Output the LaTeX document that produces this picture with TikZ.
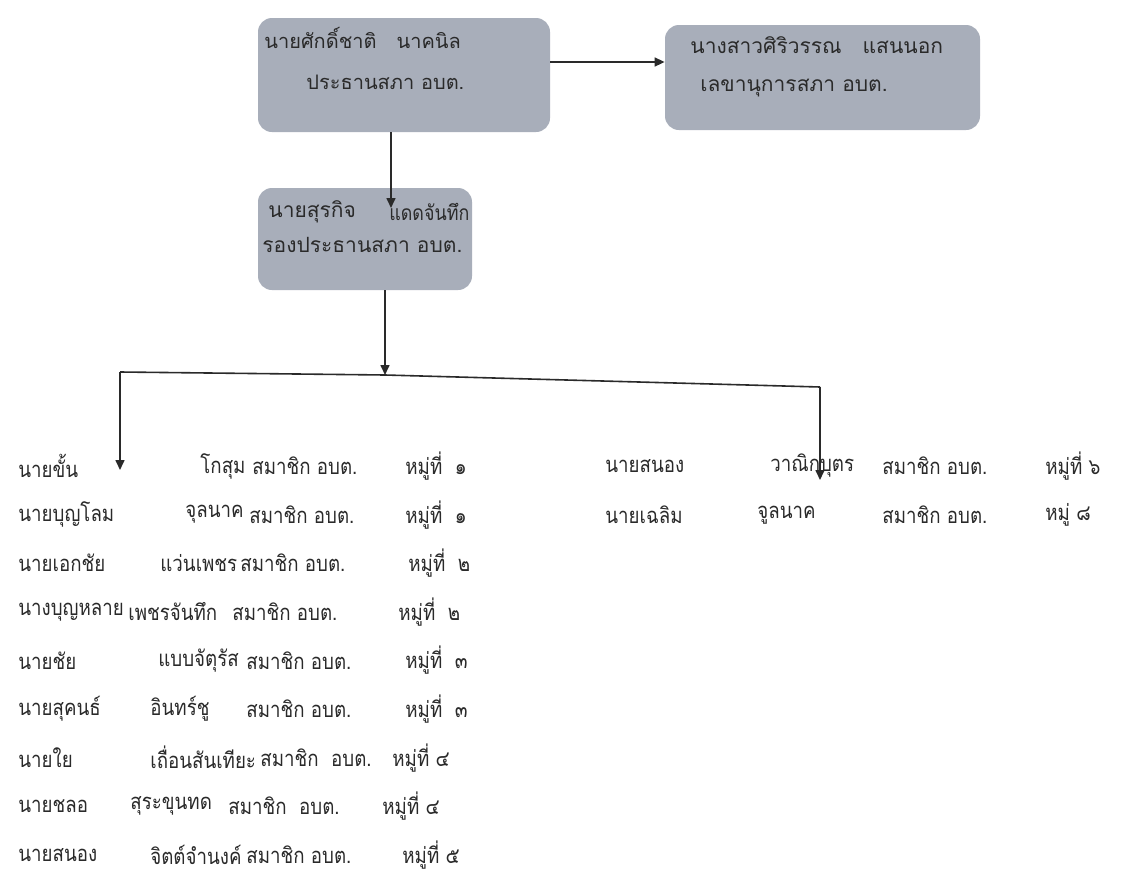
\documentclass[tikz,border=0pt]{standalone}
\usepackage{fontspec}
\setmainfont[Script=Thai]{Loma}
\newfontfamily\membfont[Script=Thai,FakeStretch=0.85]{Loma}
\usetikzlibrary{arrows.meta}
\definecolor{boxgray}{HTML}{A8AEBA}
\definecolor{ink}{HTML}{2A2A2A}
\tikzset{
  orgbox/.style={fill=boxgray, draw=none, rounded corners=7pt, inner sep=0pt},
  lbl/.style={anchor=west, inner sep=0pt, text=ink, font=\fontsize{10.5}{12}\selectfont},
  mlbl/.style={anchor=west, inner sep=0pt, text=ink, font=\membfont\fontsize{11}{13}\selectfont},
  conn/.style={draw=ink, line width=0.8pt},
  arr/.style={conn, -{Triangle[length=5pt,width=4.5pt]}}
}
\begin{document}
\begin{tikzpicture}[x=0.5pt, y=-0.5pt]
\useasboundingbox[fill=white] (0,0) rectangle (1132,873);
% boxes
\node[orgbox, minimum width=146pt, minimum height=57pt] (p1) at (404,75) {};
\node[orgbox, minimum width=157.5pt, minimum height=52.5pt] (p2) at (822.5,77.5) {};
\node[orgbox, minimum width=107pt, minimum height=51pt] (p3) at (365,239) {};
% box texts
\node[lbl, font=\fontsize{10}{12}\selectfont] (p1a) at (264,38) {นายศักดิ์ชาติ\quad นาคนิล};
\node[lbl, font=\fontsize{10}{12}\selectfont] (p1b) at (306,82) {ประธานสภา อบต.};
\node[lbl] (p2a) at (690,45) {นางสาวศิริวรรณ\quad แสนนอก};
\node[lbl] (p2b) at (700,88) {เลขานุการสภา อบต.};
\node[lbl] (p3a) at (268,212) {นายสุรกิจ};
\node[lbl, font=\membfont\fontsize{10.5}{12}\selectfont] (p3c) at (389,212) {แดดจันทึก};
\node[lbl] (p3b) at (262,245) {รองประธานสภา อบต.};
% connector points
\coordinate (t2) at (391,208);
\coordinate (j) at (385,375);
\coordinate (jl) at (120,372);
\coordinate (jr) at (820,387);
\coordinate (tl) at (120,470);
\coordinate (tr) at (820,480);
% connectors
\draw[arr] (p1.east |- 0,62) -- (p2.west |- 0,62);
\draw[arr] (p1.south -| t2) -- (t2);
\draw[arr] (p3.south -| j) -- (j);
\draw[conn] (jl) -- (j) -- (jr);
\draw[arr] (jl) -- (tl);
\draw[arr] (jr) -- (tr);
% members left column
\foreach \i/\nm/\sx/\sn/\rx/\ra/\hx/\hm in {
 0/นายขั้น/200/โกสุม/252/สมาชิก อบต./405/หมู่ที่\ \ ๑,
 1/นายบุญโลม/185/จุลนาค/249/สมาชิก อบต./405/หมู่ที่\ \ ๑,
 2/นายเอกชัย/160/แว่นเพชร/240/สมาชิก อบต./408/หมู่ที่\ \ ๒,
 3/นางบุญหลาย/128/เพชรจันทึก/232/สมาชิก อบต./398/หมู่ที่\ \ ๒,
 4/นายชัย/158/แบบจัตุรัส/246/สมาชิก อบต./405/หมู่ที่\ \ ๓,
 5/นายสุคนธ์/150/อินทร์ชู/246/สมาชิก อบต./405/หมู่ที่\ \ ๓,
 6/นายใย/150/เถื่อนสันเทียะ/260/สมาชิก\ \ อบต./392/หมู่ที่ ๔,
 7/นายชลอ/130/สุระขุนทด/228/สมาชิก\ \ อบต./382/หมู่ที่ ๔,
 8/นายสนอง/150/จิตต์จำนงค์/246/สมาชิก อบต./402/หมู่ที่ ๕}{
  \pgfmathsetmacro{\yy}{466+48.6*\i}
  \node[mlbl] (mn\i) at (18,\yy) {\nm};
  \node[mlbl] (ms\i) at (\sx,\yy) {\sn};
  \node[mlbl] (mr\i) at (\rx,\yy) {\ra};
  \node[mlbl] (mh\i) at (\hx,\yy) {\hm};
}
% members right column
\node[mlbl] (rn0) at (605,466) {นายสนอง};
\node[mlbl] (rs0) at (770,466) {วาณิกบุตร};
\node[mlbl] (rr0) at (882,466) {สมาชิก อบต.};
\node[mlbl] (rh0) at (1045,466) {หมู่ที่ ๖};
\node[mlbl] (rn1) at (605,515) {นายเฉลิม};
\node[mlbl] (rs1) at (757,515) {จูลนาค};
\node[mlbl] (rr1) at (882,515) {สมาชิก อบต.};
\node[mlbl] (rh1) at (1045,515) {หมู่ ๘};
\end{tikzpicture}
\end{document}
